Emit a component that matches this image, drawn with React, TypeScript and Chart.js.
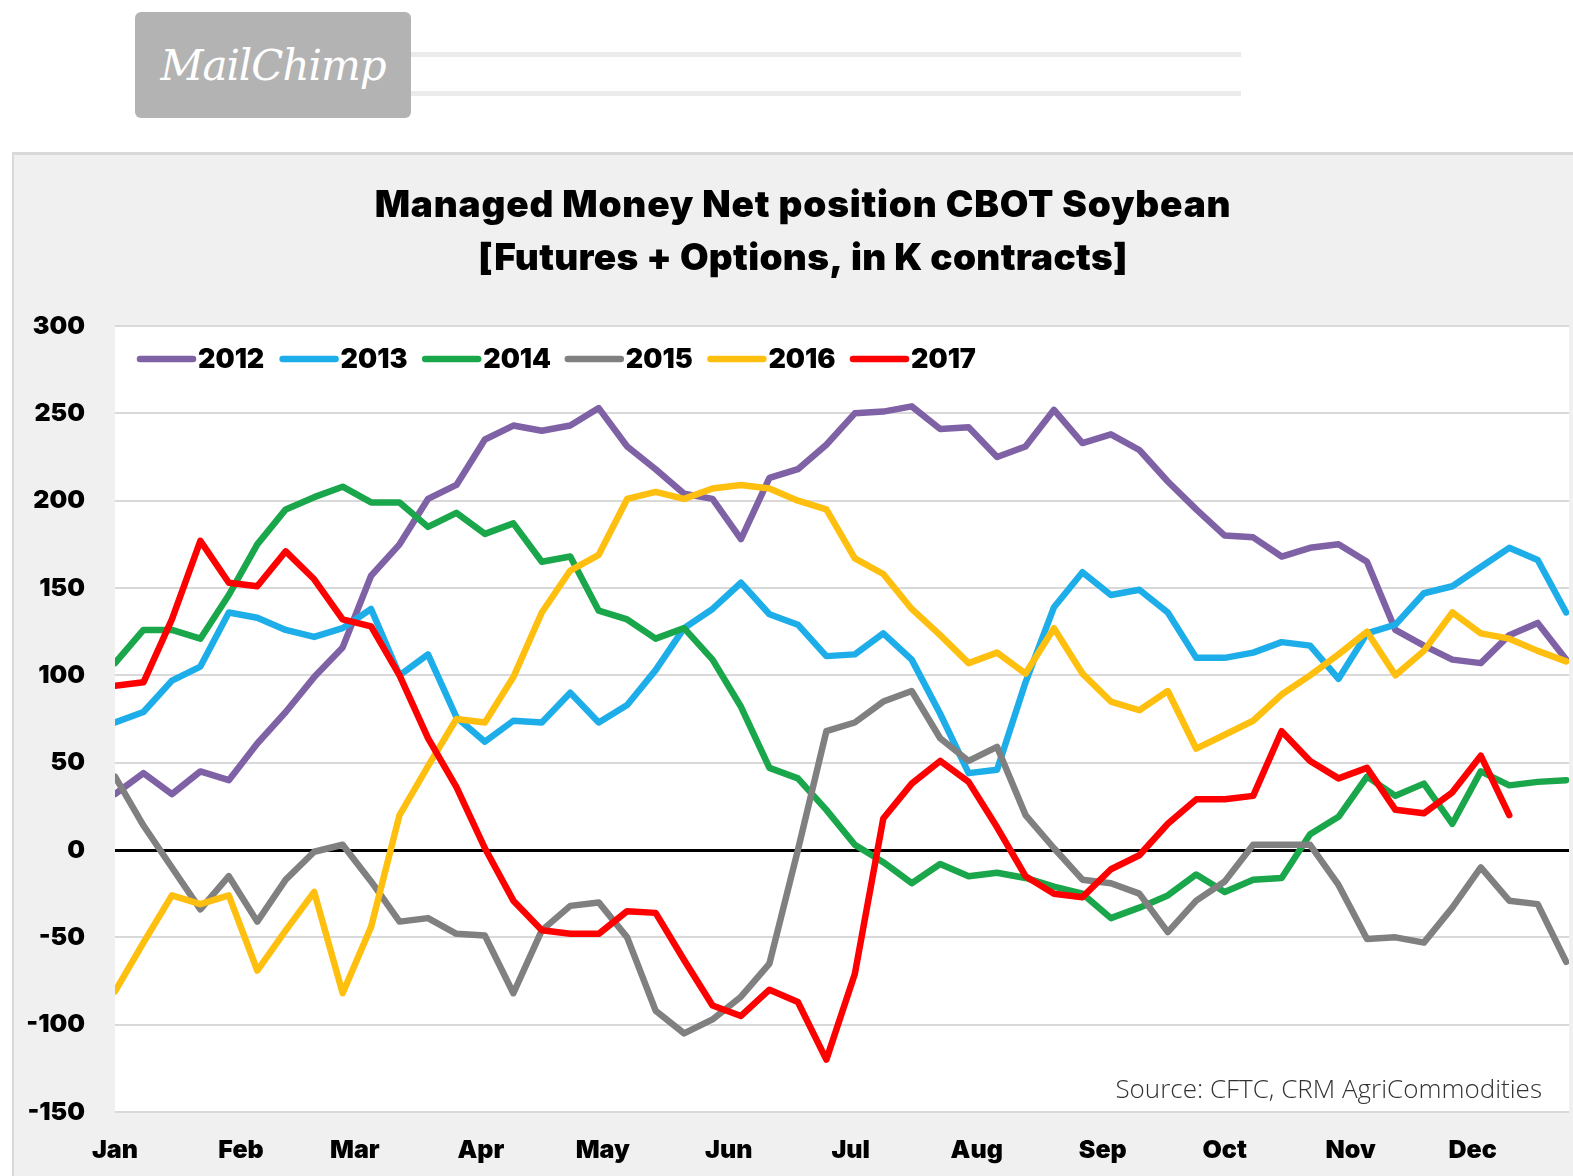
import { useEffect, useRef } from 'react';
import { Chart, registerables } from 'chart.js';

Chart.register(...registerables);

// ---------- data ----------
const monthLabels = ['Jan', 'Feb', 'Mar', 'Apr', 'May', 'Jun', 'Jul', 'Aug', 'Sep', 'Oct', 'Nov', 'Dec'];
const monthStartDays = [0, 31, 59, 90, 120, 151, 181, 212, 243, 273, 304, 334];

const seriesYears = ['2012', '2013', '2014', '2015', '2016', '2017'];

const values2012 = [32, 44, 32, 45, 40, 61, 79, 99, 116, 157, 175, 201, 209, 235, 243, 240, 243, 253, 231, 218, 204, 201, 178, 213, 218, 232, 250, 251, 254, 241, 242, 225, 231, 252, 233, 238, 229, 211, 195, 180, 179, 168, 173, 175, 165, 126, 117, 109, 107, 123, 130, 109];
const values2013 = [73, 79, 97, 105, 136, 133, 126, 122, 127, 138, 100, 112, 76, 62, 74, 73, 90, 73, 83, 103, 127, 138, 153, 135, 129, 111, 112, 124, 109, 78, 44, 46, 96, 139, 159, 146, 149, 136, 110, 110, 113, 119, 117, 98, 124, 129, 147, 151, 162, 173, 166, 136];
const values2014 = [107, 126, 126, 121, 146, 175, 195, 202, 208, 199, 199, 185, 193, 181, 187, 165, 168, 137, 132, 121, 127, 109, 82, 47, 41, 23, 3, -7, -19, -8, -15, -13, -16, -21, -25, -39, -33, -26, -14, -24, -17, -16, 9, 19, 42, 31, 38, 15, 45, 37, 39, 40];
const values2015 = [42, 14, -10, -34, -15, -41, -17, -1, 3, -18, -41, -39, -48, -49, -82, -46, -32, -30, -50, -92, -105, -97, -84, -65, 0, 68, 73, 85, 91, 64, 51, 59, 20, 1, -17, -19, -25, -47, -29, -18, 3, 3, 3, -20, -51, -50, -53, -33, -10, -29, -31, -64];
const values2016 = [-81, -53, -26, -31, -26, -69, -46, -24, -82, -44, 20, 48, 75, 73, 99, 136, 160, 169, 201, 205, 201, 207, 209, 207, 200, 195, 167, 158, 138, 123, 107, 113, 101, 127, 101, 85, 80, 91, 58, 66, 74, 89, 100, 112, 125, 100, 114, 136, 124, 121, 114, 108];
const values2017 = [94, 96, 132, 177, 153, 151, 171, 155, 132, 128, 100, 64, 36, 1, -29, -46, -48, -48, -35, -36, -63, -89, -95, -80, -87, -120, -71, 18, 38, 51, 39, 13, -15, -25, -27, -11, -3, 15, 29, 29, 31, 68, 51, 41, 47, 23, 21, 33, 54, 20];

const seriesValues = [values2012, values2013, values2014, values2015, values2016, values2017];
const seriesColors = ['#7F62A5', '#1DAEEA', '#1AA64A', '#808080', '#FFBF0F', '#FF0000'];

const yTickMin = -150;
const yTickMax = 300;
const yTickStep = 50;

const titleLines = ['Managed Money Net position CBOT Soybean', '[Futures + Options, in K contracts]'];
const sourceText = 'Source: CFTC, CRM AgriCommodities';

// ---------- styling ----------
const BOLD_FONT = 'Inter, "Open Sans", "DejaVu Sans", sans-serif';
const LIGHT_FONT = '"Open Sans", "DejaVu Sans", sans-serif';

const plotBgPlugin = {
  id: 'plotBg',
  beforeDraw(chart: any) {
    const { ctx, chartArea } = chart;
    ctx.save();
    ctx.fillStyle = '#ffffff';
    ctx.fillRect(chartArea.left, chartArea.top, chartArea.right - chartArea.left, chartArea.bottom - chartArea.top);
    ctx.restore();
  },
};

const titlePlugin = {
  id: 'twoLineTitle',
  afterDraw(chart: any) {
    const { ctx } = chart;
    ctx.save();
    ctx.fillStyle = '#000';
    ctx.textAlign = 'center';
    ctx.textBaseline = 'middle';
    ctx.font = `900 37px ${BOLD_FONT}`;
    try {
      (ctx as any).letterSpacing = '0.8px';
    } catch (e) {
      /* ignore */
    }
    ctx.fillText(titleLines[0], 803, 206);
    try {
      (ctx as any).letterSpacing = '0.3px';
    } catch (e) {
      /* ignore */
    }
    ctx.fillText(titleLines[1], 803, 259);
    ctx.restore();
  },
};

const legendPlugin = {
  id: 'insideLegend',
  afterDraw(chart: any) {
    const { ctx } = chart;
    ctx.save();
    ctx.font = `900 27px ${BOLD_FONT}`;
    ctx.textBaseline = 'middle';
    ctx.textAlign = 'left';
    const y = 359;
    chart.data.datasets.forEach((ds: any, i: number) => {
      const x = 137 + i * 142.6;
      ctx.strokeStyle = ds.borderColor;
      ctx.lineWidth = 6.5;
      ctx.lineCap = 'round';
      ctx.beginPath();
      ctx.moveTo(x + 3, y);
      ctx.lineTo(x + 56, y);
      ctx.stroke();
      ctx.fillStyle = '#000';
      ctx.fillText(ds.label, x + 61, y + 1);
    });
    ctx.restore();
  },
};

const sourcePlugin = {
  id: 'sourceNote',
  afterDraw(chart: any) {
    const { ctx } = chart;
    ctx.save();
    ctx.font = `300 26px ${LIGHT_FONT}`;
    ctx.fillStyle = '#333';
    ctx.textAlign = 'right';
    ctx.textBaseline = 'middle';
    ctx.fillText(sourceText, 1542, 1091);
    ctx.restore();
  },
};

export default function App() {
  const ref = useRef<HTMLCanvasElement>(null);

  useEffect(() => {
    const canvas = ref.current;
    if (!canvas) return;
    const datasets = seriesYears.map((year, i) => ({
      label: year,
      data: seriesValues[i].map((v, w) => ({ x: w, y: v })),
      borderColor: seriesColors[i],
      backgroundColor: seriesColors[i],
      borderWidth: 6.5,
      pointRadius: 0,
      pointHoverRadius: 0,
      borderJoinStyle: 'round' as const,
      borderCapStyle: 'round' as const,
      tension: 0,
      fill: false,
      order: seriesYears.length - i,
    }));

    const chart = new Chart(canvas, {
      type: 'line',
      data: { datasets },
      options: {
        responsive: false,
        animation: false,
        events: [],
        layout: { padding: { top: 326, right: 4, bottom: 0, left: 0 } },
        plugins: {
          legend: { display: false },
          tooltip: { enabled: false },
          title: { display: false },
        },
        scales: {
          x: {
            type: 'linear',
            min: 0,
            max: 51.1,
            grid: { display: false },
            border: { display: false },
            afterBuildTicks: (axis: any) => {
              axis.ticks = monthStartDays.map((d) => ({ value: d / 7 }));
            },
            afterFit: (axis: any) => {
              axis.height = 64;
            },
            ticks: {
              autoSkip: false,
              maxRotation: 0,
              minRotation: 0,
              padding: 15,
              color: '#000',
              font: { family: BOLD_FONT, size: 25, weight: '900' },
              callback: (_v: any, idx: number) => monthLabels[idx],
            },
          },
          y: {
            min: yTickMin,
            max: yTickMax,
            afterFit: (axis: any) => {
              axis.width = 115;
            },
            ticks: {
              stepSize: yTickStep,
              padding: 30,
              color: '#000',
              font: { family: BOLD_FONT, size: 25, weight: '900' },
            },
            grid: {
              drawTicks: false,
              color: (c: any) => (c.tick && c.tick.value === 0 ? '#000000' : '#d9d9d9'),
              lineWidth: (c: any) => (c.tick && c.tick.value === 0 ? 3 : 2),
            },
            border: { display: false },
          },
        },
      },
      plugins: [plotBgPlugin, titlePlugin, legendPlugin, sourcePlugin],
    } as any);

    return () => chart.destroy();
  }, []);

  return (
    <div style={{ position: 'fixed', left: 0, top: 0, width: 1573, height: 1176, background: '#fff', overflow: 'hidden' }}>
      <div
        style={{
          position: 'absolute',
          left: 135,
          top: 12,
          width: 276,
          height: 106,
          background: '#b3b3b3',
          borderRadius: 6,
          display: 'flex',
          alignItems: 'center',
          justifyContent: 'center',
        }}
      >
        <span style={{ color: '#fff', fontFamily: '"DejaVu Serif", serif', fontStyle: 'italic', fontSize: 42, letterSpacing: -1 }}>
          MailChimp
        </span>
      </div>
      <div style={{ position: 'absolute', left: 411, top: 52, width: 830, height: 5, background: '#ebebeb' }} />
      <div style={{ position: 'absolute', left: 411, top: 91, width: 830, height: 5, background: '#ebebeb' }} />
      <div
        style={{
          position: 'absolute',
          left: 12,
          top: 152,
          width: 1600,
          height: 1100,
          background: '#f0f0f0',
          borderTop: '3px solid #d9d9d9',
          borderLeft: '2px solid #d9d9d9',
        }}
      />
      <canvas ref={ref} width={1573} height={1176} style={{ position: 'absolute', left: 0, top: 0 }} />
    </div>
  );
}
